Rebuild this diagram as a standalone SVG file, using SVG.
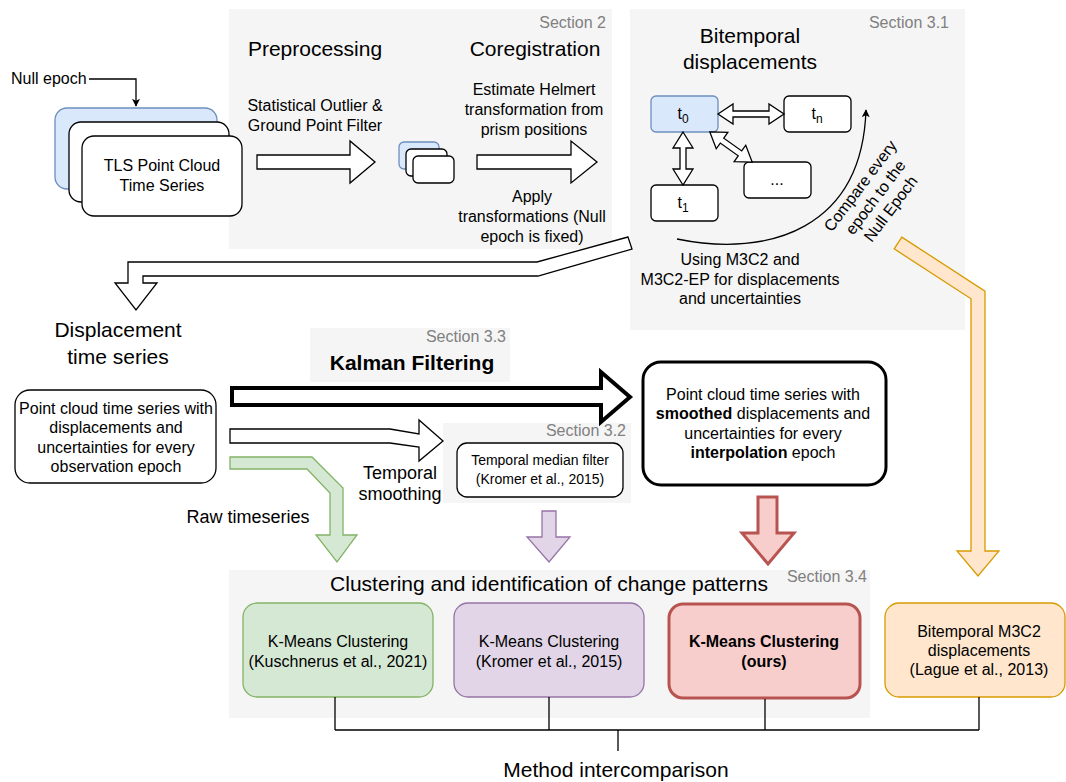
<svg xmlns="http://www.w3.org/2000/svg" width="1066" height="782" viewBox="0 0 1066 782">
<defs>
<style>
.panel{fill:#f5f5f5}
text{font-family:"Liberation Sans",Arial,Helvetica,sans-serif;fill:#000}
.c{text-anchor:middle}
.sec{fill:#808080;font-size:16px;text-anchor:end}
.h{font-size:21px}
.b{font-size:16px}
.s{font-size:14px}
.m{font-size:18px}
.box{fill:#fff;stroke:#000;stroke-width:1.3}
.blue{fill:#dae8fc;stroke:#6c8ebf;stroke-width:1.3}
.ha{fill:#fff;stroke:#000;stroke-width:1.3;stroke-linejoin:miter}
.ln{fill:none;stroke:#000;stroke-width:1.3}
</style>
<marker id="ah" viewBox="0 0 10 10" refX="9" refY="5" markerWidth="8" markerHeight="8" orient="auto" markerUnits="userSpaceOnUse">
<path d="M0,0 L10,5 L0,10 L2.5,5 Z" fill="#000"/>
</marker>
</defs>

<g id="panels">
<rect class="panel" x="229" y="9" width="383" height="240"/>
<rect class="panel" x="630" y="9" width="335" height="321"/>
<rect class="panel" x="310" y="328" width="200" height="54"/>
<rect class="panel" x="443" y="423" width="188" height="80"/>
<rect class="panel" x="229" y="570" width="641" height="148"/>
<text class="sec" x="606" y="28">Section 2</text>
<text class="sec" x="949" y="28">Section 3.1</text>
<text class="sec" x="506" y="342">Section 3.3</text>
<text class="sec" x="626" y="436">Section 3.2</text>
<text class="sec" x="867" y="582">Section 3.4</text>
</g>

<g id="labels">
<text class="h c" x="315" y="56">Preprocessing</text>
<text class="h c" x="535" y="56">Coregistration</text>
<text class="b c" x="315" y="111">Statistical Outlier &amp;</text>
<text class="b c" x="315" y="131">Ground Point Filter</text>
<text class="b c" x="534" y="95">Estimate Helmert</text>
<text class="b c" x="534" y="115">transformation from</text>
<text class="b c" x="534" y="135">prism positions</text>
<text class="b c" x="532" y="202">Apply</text>
<text class="b c" x="532" y="222">transformations (Null</text>
<text class="b c" x="532" y="242">epoch is fixed)</text>
<text class="b" x="11" y="84">Null epoch</text>
<text class="h c" x="750" y="43">Bitemporal</text>
<text class="h c" x="750" y="69">displacements</text>
<text class="b c" x="740" y="265">Using M3C2 and</text>
<text class="b c" x="740" y="285">M3C2-EP for displacements</text>
<text class="b c" x="740" y="304">and uncertainties</text>
<g transform="translate(875,197) rotate(-53)">
<text class="b c" x="0" y="-13">Compare every</text>
<text class="b c" x="0" y="6">epoch to the</text>
<text class="b c" x="0" y="25">Null Epoch</text>
</g>
<text class="h c" x="118" y="337">Displacement</text>
<text class="h c" x="118" y="364">time series</text>
<text class="h c" x="412" y="370" font-weight="bold">Kalman Filtering</text>
<text class="m c" x="400" y="479">Temporal</text>
<text class="m c" x="400" y="500">smoothing</text>
<text class="m c" x="248" y="523">Raw timeseries</text>
<text class="h c" x="549" y="591">Clustering and identification of change patterns</text>
<text class="h c" x="616" y="777">Method intercomparison</text>
</g>

<g id="node-tls">
<rect class="blue" x="55" y="108" width="162" height="81" rx="12"/>
<rect class="box" x="69" y="122" width="160" height="80" rx="12"/>
<rect class="box" x="82" y="136" width="160" height="80" rx="12"/>
<text class="b c" x="162" y="171">TLS Point Cloud</text>
<text class="b c" x="162" y="191">Time Series</text>
</g>

<g id="node-stack-small">
<rect class="blue" x="399" y="142" width="40" height="27" rx="5"/>
<rect class="box" x="406" y="149" width="41" height="27" rx="5"/>
<rect class="box" x="413" y="156" width="41" height="27" rx="5"/>
</g>

<g id="node-t0">
<rect class="blue" x="651" y="96" width="67" height="36" rx="5"/>
<text class="b c" x="683" y="119">t<tspan font-size="12" dy="4">0</tspan></text>
</g>
<g id="node-tn">
<rect class="box" x="784" y="96" width="67" height="36" rx="5"/>
<text class="b c" x="817" y="119">t<tspan font-size="12" dy="4">n</tspan></text>
</g>
<g id="node-t1">
<rect class="box" x="651" y="185" width="67" height="36" rx="5"/>
<text class="b c" x="683" y="208">t<tspan font-size="12" dy="4">1</tspan></text>
</g>
<g id="node-dots">
<rect class="box" x="744" y="162" width="67" height="36" rx="5"/>
<text class="b c" x="777" y="185">...</text>
</g>

<g id="node-raw">
<rect class="box" x="15" y="390" width="201" height="93" rx="15"/>
<text class="b c" x="116" y="414">Point cloud time series with</text>
<text class="b c" x="116" y="433">displacements and</text>
<text class="b c" x="116" y="453">uncertainties for every</text>
<text class="b c" x="116" y="472">observation epoch</text>
</g>

<g id="node-median">
<rect class="box" x="457" y="443" width="166" height="54" rx="10"/>
<text class="s c" x="540" y="465">Temporal median filter</text>
<text class="s c" x="540" y="484">(Kromer et al., 2015)</text>
</g>

<g id="node-smoothed">
<rect x="643" y="362" width="243" height="123" rx="18" fill="#fff" stroke="#000" stroke-width="3"/>
<text class="b c" x="763" y="400">Point cloud time series with</text>
<text class="b c" x="763" y="419"><tspan font-weight="bold">smoothed</tspan> displacements and</text>
<text class="b c" x="763" y="439">uncertainties for every</text>
<text class="b c" x="763" y="458"><tspan font-weight="bold">interpolation</tspan> epoch</text>
</g>

<g id="node-km-green">
<rect x="243" y="603" width="190" height="94" rx="14" fill="#d5e8d4" stroke="#82b366" stroke-width="1.3"/>
<text class="b c" x="338" y="647">K-Means Clustering</text>
<text class="b c" x="338" y="667">(Kuschnerus et al., 2021)</text>
</g>
<g id="node-km-purple">
<rect x="454" y="603" width="190" height="94" rx="14" fill="#e1d5e7" stroke="#9673a6" stroke-width="1.3"/>
<text class="b c" x="549" y="647">K-Means Clustering</text>
<text class="b c" x="549" y="667">(Kromer et al., 2015)</text>
</g>
<g id="node-km-red">
<rect x="669" y="604" width="191" height="94" rx="14" fill="#f8cecc" stroke="#b85450" stroke-width="3"/>
<text class="b c" x="764" y="647" font-weight="bold">K-Means Clustering</text>
<text class="b c" x="764" y="667" font-weight="bold">(ours)</text>
</g>
<g id="node-lague">
<rect x="885" y="603" width="180" height="94" rx="14" fill="#ffe6cc" stroke="#d79b00" stroke-width="1.3"/>
<text class="b c" x="979" y="637">Bitemporal M3C2</text>
<text class="b c" x="979" y="656">displacements</text>
<text class="b c" x="979" y="675">(Lague et al., 2013)</text>
</g>

<g id="connectors">
<path class="ln" d="M89,79 H136 V106" marker-end="url(#ah)"/>
<polygon class="ha" points="257,155 350,155 350,141 375,162 350,183 350,169 257,169"/>
<polygon class="ha" points="477,155 571,155 571,141 597,162 571,183 571,169 477,169"/>
<polygon class="ha" points="718,114 733,104 733,111 769,111 769,104 784,114 769,124 769,117 733,117 733,124"/>
<polygon class="ha" points="683,132 693,148 686,148 686,169 693,169 683,185 673,169 680,169 680,148 673,148"/>
<g transform="translate(731,147) rotate(35.5)">
<polygon class="ha" points="-26,0 -11,-10 -11,-3 11,-3 11,-10 26,0 11,10 11,3 -11,3 -11,10"/>
</g>
<path class="ln" d="M677,239 C770,258 862,228 866,110" marker-end="url(#ah)"/>
<polygon class="ha" points="628,237 537,262 128,262 128,283 115,283 136,310 157,283 143,283 143,276 538,276 632,249"/>
<polygon points="901.8,237.1 985,291.2 985,551 999,551 978,576 957,551 971,551 971,298.8 894.2,248.9" fill="#ffe6cc" stroke="#d79b00" stroke-width="1.3"/>
<polygon points="232,388 601,388 601,372 630,397 601,422 601,405 232,405" fill="#fff" stroke="#000" stroke-width="4" stroke-linejoin="miter"/>
<polygon class="ha" points="230,429 390,429 419,434 419,420 443,441 419,461 419,447 390,443 230,443"/>
<polygon points="230,457 312,457 343,488 343,535 357,535 337,562 316,535 330,535 330,493 307,469 230,469" fill="#d5e8d4" stroke="#82b366" stroke-width="1.3"/>
<polygon points="542,511 556,511 556,537 570,537 549,562 527,537 542,537" fill="#e1d5e7" stroke="#9673a6" stroke-width="1.3"/>
<polygon points="758,497 777,497 777,533 794,533 768,564 742,533 758,533" fill="#f8cecc" stroke="#b85450" stroke-width="3"/>
<path class="ln" d="M335,697 V730 M549,697 V730 M765,699 V730 M979,697 V730 M335,730 H979 M618,730 V751"/>
</g>
</svg>
